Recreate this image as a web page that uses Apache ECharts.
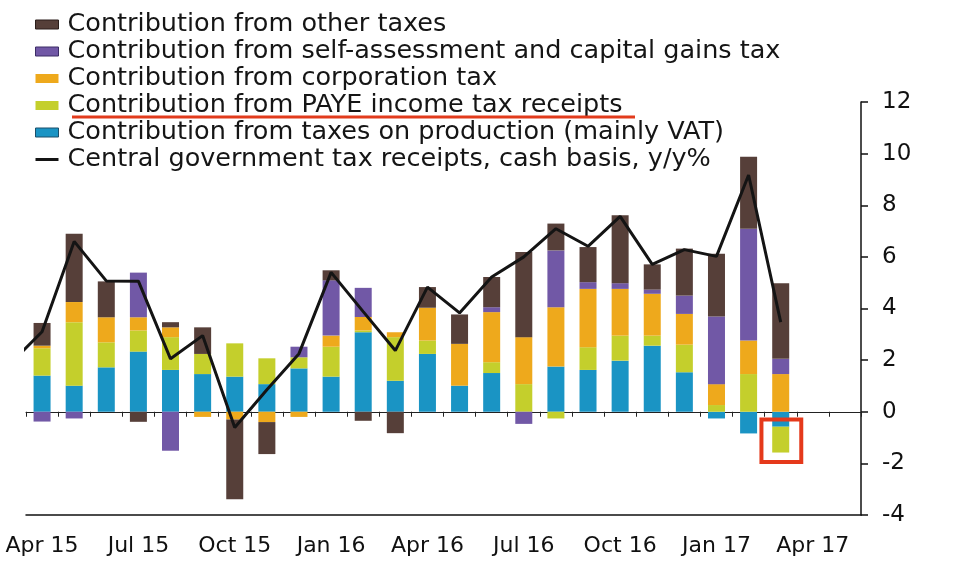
<!DOCTYPE html>
<html>
<head>
<meta charset="utf-8">
<script src="https://cdn.jsdelivr.net/npm/echarts@6/dist/echarts.min.js"></script>
<style>
html,body{margin:0;padding:0;background:#fff;}
#main{width:960px;height:585px;}
</style>
</head>
<body>
<div id="main"></div>
<script>
// Month categories (axis slots); labels every third month
var categories = ['Apr 15','May 15','Jun 15','Jul 15','Aug 15','Sep 15','Oct 15','Nov 15','Dec 15',
  'Jan 16','Feb 16','Mar 16','Apr 16','May 16','Jun 16','Jul 16','Aug 16','Sep 16','Oct 16','Nov 16','Dec 16',
  'Jan 17','Feb 17','Mar 17','Apr 17','May 17'];

var seriesNames = [
  'Contribution from other taxes',
  'Contribution from self-assessment and capital gains tax',
  'Contribution from corporation tax',
  'Contribution from PAYE income tax receipts',
  'Contribution from taxes on production (mainly VAT)',
  'Central government tax receipts, cash basis, y/y%'
];

// Contributions (percentage points), Apr 15 .. Mar 17
var vat   = [1.40, 1.01, 1.72, 2.33, 1.62, 1.46, 1.36, 1.07, 1.68, 1.36, 3.08, 1.20, 2.24, 1.01, 1.50, 0, 1.75, 1.62, 1.98, 2.56, 1.53, -0.26, -0.84, -0.58];
var paye  = [1.06, 2.46, 0.97, 0.82, 1.27, 0.78, 1.29, 1.00, 0.43, 1.16, 0.07, 1.69, 0.52, 0, 0.42, 1.07, -0.26, 0.88, 0.97, 0.39, 1.07, 0.26, 1.46, -1.00];
var corp  = [0.10, 0.78, 0.97, 0.51, 0.38, -0.20, -0.30, -0.40, -0.20, 0.43, 0.52, 0.19, 1.27, 1.62, 1.94, 1.82, 2.30, 2.26, 1.81, 1.62, 1.19, 0.81, 1.30, 1.46];
var sa    = [-0.38, -0.26, 0, 1.73, -1.51, 0, 0, 0, 0.41, 2.14, 1.13, 0, 0, 0, 0.19, -0.47, 2.20, 0.26, 0.22, 0.16, 0.71, 2.62, 4.33, 0.59];
var other = [0.88, 2.65, 1.39, -0.39, 0.20, 1.03, -3.09, -1.24, 0, 0.39, -0.35, -0.83, 0.80, 1.14, 1.17, 3.30, 1.04, 1.36, 2.63, 0.98, 1.82, 2.43, 2.79, 2.93];

// Total receipts line, y/y%; first point is Mar 15 (slot -1), partly clipped by the plot edge
var lineStartIndex = -1;
var totalLine = [1.85, 3.10, 6.60, 5.07, 5.06, 2.05, 2.95, -0.61, 0.85, 2.25, 5.40, 3.88, 2.37, 4.83, 3.83, 5.22, 6.00, 7.09, 6.41, 7.57, 5.71, 6.28, 6.02, 9.17, 3.47];

var yTicks = {min: -4, max: 12, interval: 2};

var colors = {
  other: '#563f39',
  sa: '#7158a6',
  corp: '#eea91c',
  paye: '#c4cf2c',
  vat: '#1a94c4',
  line: '#141414'
};

var FONT = 'DejaVu Sans';

var linePoints = totalLine.map(function (v, i) { return [i + lineStartIndex, v]; });

function bar(name, data, color) {
  return {
    name: name, type: 'bar', stack: 'total', data: data,
    xAxisIndex: 0, yAxisIndex: 0,
    barWidth: 17,
    itemStyle: {color: color},
    emphasis: {disabled: true},
    animation: false
  };
}

var chart = echarts.init(document.getElementById('main'), null, {renderer: 'canvas'});

var option = {
  animation: false,
  backgroundColor: '#ffffff',
  textStyle: {fontFamily: FONT},
  grid: {left: 26, right: 99, top: 102, bottom: 70, containLabel: false},
  legend: {
    orient: 'vertical',
    left: 30, top: 6,
    itemWidth: 23, itemHeight: 9,
    itemGap: 0,
    selectedMode: false,
    textStyle: {fontFamily: FONT, fontSize: 25.5, color: '#151515', lineHeight: 27, padding: [0, 0, 0, 4]},
    data: [
      {name: seriesNames[0], icon: 'rect', itemStyle: {color: colors.other, borderColor: '#2a1d1a', borderWidth: 1}},
      {name: seriesNames[1], icon: 'rect', itemStyle: {color: colors.sa, borderColor: '#3c2d66', borderWidth: 1}},
      {name: seriesNames[2], icon: 'rect'},
      {name: seriesNames[3], icon: 'rect'},
      {name: seriesNames[4], icon: 'rect', itemStyle: {color: colors.vat, borderColor: '#1b4f6a', borderWidth: 1}},
      {name: seriesNames[5], icon: 'path://M0,0M0,9M0,3h23v3h-23z', itemStyle: {color: colors.line}}
    ]
  },
  xAxis: [
    {
      type: 'category', data: categories, position: 'bottom',
      boundaryGap: true,
      axisLine: {show: true, onZero: false, lineStyle: {color: '#111', width: 1.5}},
      axisTick: {show: false},
      axisLabel: {interval: 2, margin: 20, fontFamily: FONT, fontSize: 22, color: '#111'},
      splitLine: {show: false}
    },
    {
      type: 'value', min: -0.5, max: categories.length - 0.5,
      show: false,
      axisLine: {onZero: false}
    },
    {
      type: 'category', data: categories, position: 'top',
      boundaryGap: true,
      axisLine: {show: true, onZero: true, onZeroAxisIndex: 0, lineStyle: {color: '#222', width: 1}},
      axisTick: {show: true, inside: true, length: 5, interval: 0, alignWithLabel: false, lineStyle: {color: '#222', width: 1}},
      axisLabel: {show: false},
      splitLine: {show: false}
    }
  ],
  yAxis: [{
    type: 'value', position: 'right',
    min: yTicks.min, max: yTicks.max, interval: yTicks.interval,
    axisLine: {show: true, onZero: false, lineStyle: {color: '#111', width: 1.5}},
    axisTick: {show: true, inside: false, length: 7, lineStyle: {color: '#111', width: 1.5}},
    axisLabel: {margin: 21, fontFamily: FONT, fontSize: 23, color: '#111', align: 'left'},
    splitLine: {show: false}
  }],
  series: [
    bar(seriesNames[4], vat, colors.vat),
    bar(seriesNames[3], paye, colors.paye),
    bar(seriesNames[2], corp, colors.corp),
    bar(seriesNames[1], sa, colors.sa),
    bar(seriesNames[0], other, colors.other),
    {
      name: seriesNames[5], type: 'line', data: linePoints,
      xAxisIndex: 1, yAxisIndex: 0,
      showSymbol: false, symbol: 'none',
      clip: true,
      lineStyle: {color: colors.line, width: 3},
      itemStyle: {color: colors.line},
      z: 5,
      emphasis: {disabled: true}
    }
  ]
};

chart.setOption(option);

// Annotations: red underline under PAYE legend entry and red box around the Mar 17 negative bar
var lastIdx = vat.length - 1;
var p1 = chart.convertToPixel({seriesIndex: 5}, [lastIdx - 0.6, -0.3]);
var p2 = chart.convertToPixel({seriesIndex: 5}, [lastIdx + 0.64, -1.95]);

chart.setOption({
  graphic: [
    {
      type: 'line', z: 100,
      shape: {x1: 72, y1: 117, x2: 635, y2: 117},
      style: {stroke: '#e23b1c', lineWidth: 3}
    },
    {
      type: 'rect', z: 100,
      shape: {x: p1[0], y: p1[1], width: p2[0] - p1[0], height: p2[1] - p1[1]},
      style: {fill: 'none', stroke: '#e5391b', lineWidth: 4}
    }
  ]
});
</script>
</body>
</html>
